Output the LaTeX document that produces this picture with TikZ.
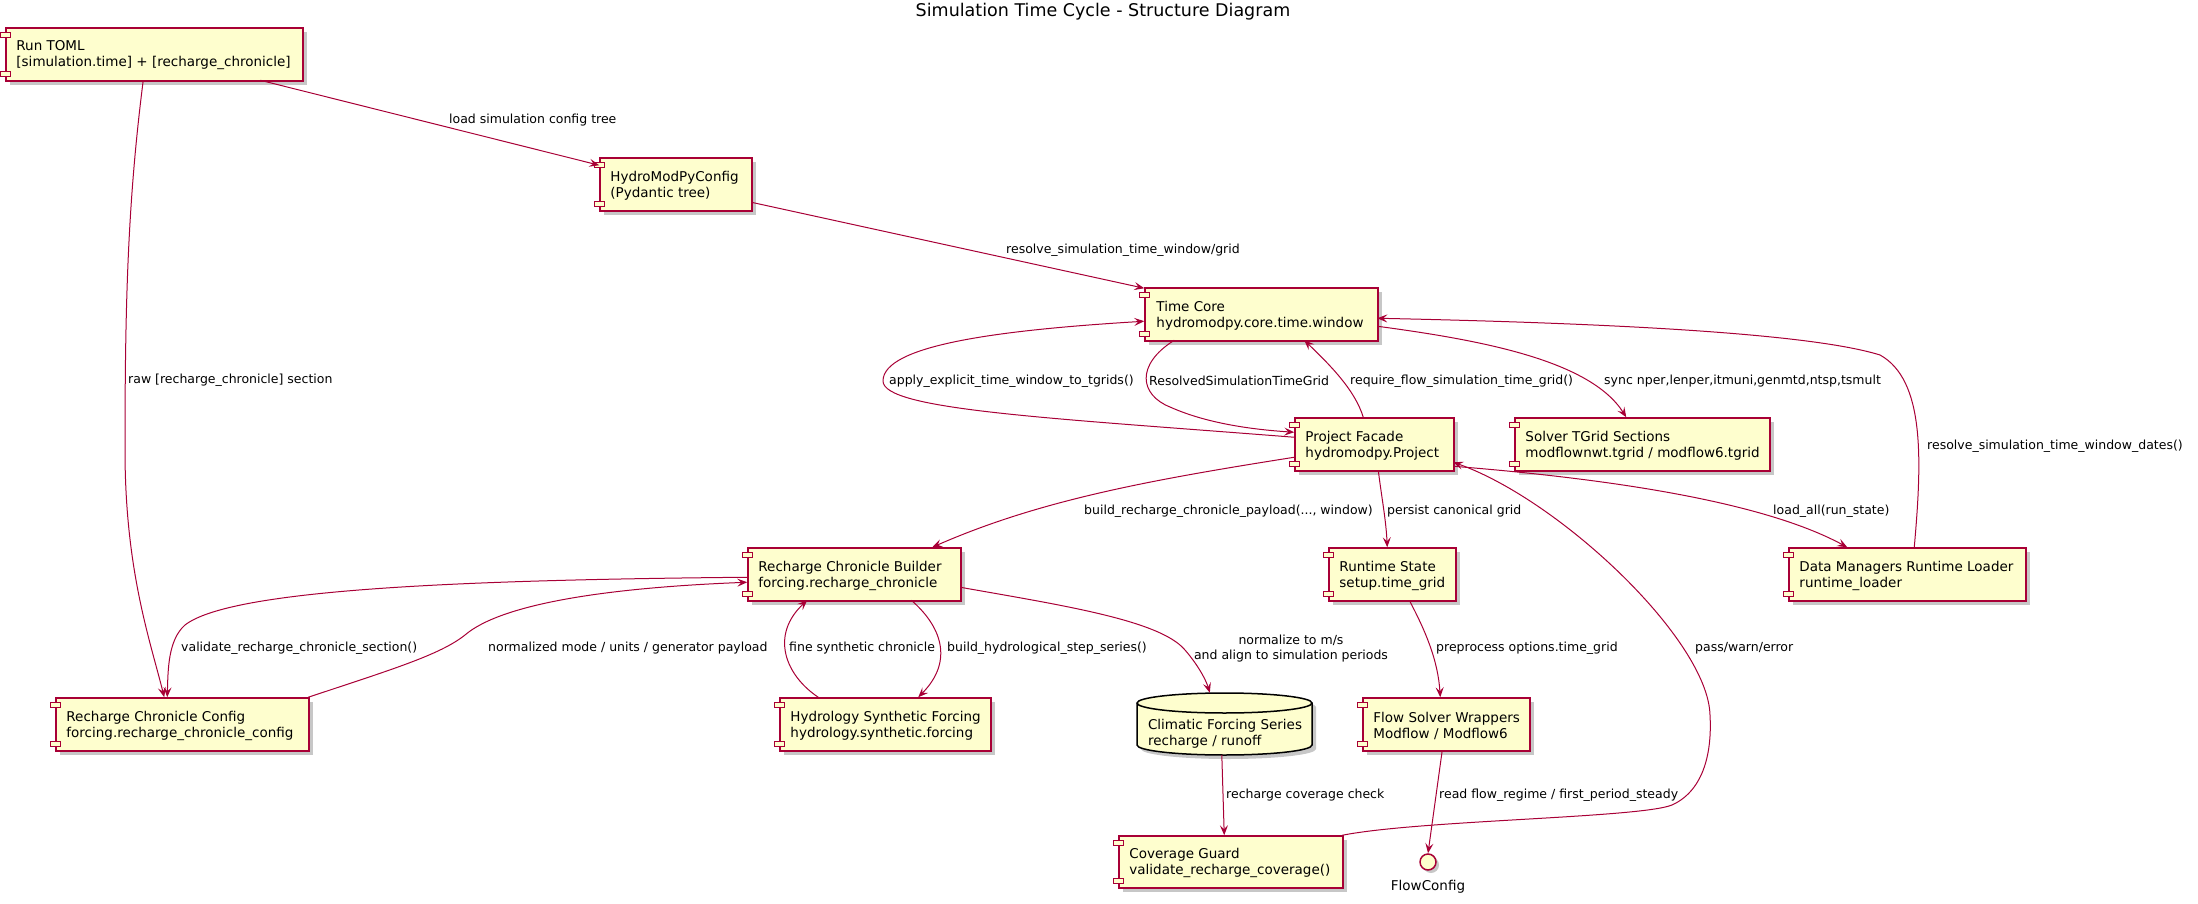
\documentclass[tikz,border=0pt]{standalone}
\usepackage{fontspec}
\setmainfont{DejaVu Sans}
\usetikzlibrary{arrows.meta,shadows,calc}
\definecolor{pbox}{HTML}{FEFECE}
\definecolor{pline}{HTML}{A80036}
\newcommand\compicons[1]{%
  \draw[icon] ($(#1.north west)+(-5,5.5)$) rectangle ($(#1.north west)+(5,10.5)$);
  \draw[icon] ($(#1.south west)+(-5,-5.5)$) rectangle ($(#1.south west)+(5,-10.5)$);}
\begin{document}
\begin{tikzpicture}[x=1pt,y=-1pt,
  comp/.style={draw=pline, fill=pbox, line width=1.5pt, minimum height=53pt, inner sep=0pt,
    drop shadow={shadow xshift=4pt, shadow yshift=-4pt, opacity=0.22, fill=black}},
  ctext/.style={anchor=west, align=left, inner sep=0pt, font=\fontsize{13.5}{16}\selectfont},
  icon/.style={draw=pline, fill=pbox, line width=1.2pt},
  conn/.style={draw=pline, line width=1pt, -{Stealth[length=10pt,width=8pt,inset=4pt]}},
  lbl/.style={anchor=west, inner sep=0pt, font=\fontsize{12.5}{15}\selectfont},
]
\useasboundingbox (0,0) rectangle (2198,904);

\node[font=\fontsize{17.5}{20}\selectfont] (title) at (1103,12) {Simulation Time Cycle - Structure Diagram};

% components
\node[comp, minimum width=297pt] (runtoml) at (154.5,54.5) {};
\node[comp, minimum width=152pt] (hmpc) at (676,184.5) {};
\node[comp, minimum width=233pt] (timecore) at (1261.5,314.5) {};
\node[comp, minimum width=159pt] (project) at (1374.5,444.5) {};
\node[comp, minimum width=255pt] (solver) at (1642.5,444.5) {};
\node[comp, minimum width=213pt] (rcb) at (854.5,574.5) {};
\node[comp, minimum width=127pt] (runtime) at (1392.5,574.5) {};
\node[comp, minimum width=237pt] (datamgr) at (1907.5,574.5) {};
\node[comp, minimum width=253pt] (rcc) at (182.5,724.5) {};
\node[comp, minimum width=211pt] (hsf) at (885.5,724.5) {};
\node[comp, minimum width=167pt] (fsw) at (1446.5,724.5) {};
\node[comp, minimum width=224pt, minimum height=52pt] (cov) at (1231,862) {};

\foreach \n in {runtoml,hmpc,timecore,project,solver,rcb,runtime,datamgr,rcc,hsf,fsw,cov}{\compicons{\n}}

% database cylinder
\node[inner sep=0pt, minimum width=175pt, minimum height=62pt] (cfs) at (1224.5,724) {};
\path[draw=black, fill=pbox, line width=1.5pt, drop shadow={shadow xshift=4pt, shadow yshift=-4pt, opacity=0.22, fill=black}]
  (1137,703) -- (1137,745)
  .. controls (1137,750.5) and (1176.2,755) .. (1224.5,755)
  .. controls (1272.8,755) and (1312,750.5) .. (1312,745)
  -- (1312,703)
  .. controls (1312,697.5) and (1272.8,693) .. (1224.5,693)
  .. controls (1176.2,693) and (1137,697.5) .. (1137,703) -- cycle;
\draw[draw=black, line width=1.5pt] (1137,703)
  .. controls (1137,708.5) and (1176.2,713) .. (1224.5,713)
  .. controls (1272.8,713) and (1312,708.5) .. (1312,703);

% interface
\node[circle, draw=pline, fill=pbox, line width=1.5pt, minimum size=16pt, inner sep=0pt,
  drop shadow={shadow xshift=3pt, shadow yshift=-3pt, opacity=0.22, fill=black}] (flowcfg) at (1428,862) {};
\node[inner sep=0pt, font=\fontsize{13.5}{16}\selectfont] (flowcfg-t) at (1428,887) {FlowConfig};

% texts
\node[ctext] (runtoml-t) at ($(runtoml.west)+(11,1)$) {Run TOML\\{}[simulation.time] + [recharge\_chronicle]};
\node[ctext] (hmpc-t) at ($(hmpc.west)+(11,1)$) {HydroModPyConfig\\(Pydantic tree)};
\node[ctext] (timecore-t) at ($(timecore.west)+(12,1)$) {Time Core\\hydromodpy.core.time.window};
\node[ctext] (project-t) at ($(project.west)+(11,1)$) {Project Facade\\hydromodpy.Project};
\node[ctext] (solver-t) at ($(solver.west)+(11,1)$) {Solver TGrid Sections\\modflownwt.tgrid / modflow6.tgrid};
\node[ctext] (rcb-t) at ($(rcb.west)+(11,1)$) {Recharge Chronicle Builder\\forcing.recharge\_chronicle};
\node[ctext] (runtime-t) at ($(runtime.west)+(11,1)$) {Runtime State\\setup.time\_grid};
\node[ctext] (datamgr-t) at ($(datamgr.west)+(11,1)$) {Data Managers Runtime Loader\\runtime\_loader};
\node[ctext] (rcc-t) at ($(rcc.west)+(11,1)$) {Recharge Chronicle Config\\forcing.recharge\_chronicle\_config};
\node[ctext] (hsf-t) at ($(hsf.west)+(11,1)$) {Hydrology Synthetic Forcing\\hydrology.synthetic.forcing};
\node[ctext] (cfs-t) at ($(cfs.west)+(11,10)$) {Climatic Forcing Series\\recharge / runoff};
\node[ctext] (fsw-t) at ($(fsw.west)+(11,1)$) {Flow Solver Wrappers\\Modflow / Modflow6};
\node[ctext] (cov-t) at ($(cov.west)+(11,1)$) {Coverage Guard\\validate\_recharge\_coverage()};

% connectors
\draw[conn] ($(runtoml.north west)+(255,53)$) -- ($(hmpc.north west)+(0,8)$);
\node[lbl] (l1) at (449,120) {load simulation config tree};

\draw[conn] ($(runtoml.north west)+(138,53)$) .. controls (128,200) and (125,300) .. (125,450)
  .. controls (125,570) and (150,640) .. ($(rcc.north west)+(109,0)$);
\node[lbl] (l2) at (128,380) {raw [recharge\_chronicle] section};

\draw[conn] ($(hmpc.north west)+(152,45)$) -- ($(timecore.north west)+(0,1)$);
\node[lbl] (l3) at (1006,250) {resolve\_simulation\_time\_window/grid};

\draw[conn] ($(project.north west)+(0,20)$) .. controls (1050,418) and (883,410) .. (883,381)
  .. controls (883,345) and (1000,330) .. ($(timecore.north west)+(0,34)$);
\node[lbl] (l4) at (889,381) {apply\_explicit\_time\_window\_to\_tgrids()};

\draw[conn] ($(timecore.north west)+(30,53)$) .. controls (1135,365) and (1140,395) .. (1170,407)
  .. controls (1210,425) and (1260,430) .. ($(project.north west)+(0,15)$);
\node[lbl] (l5) at (1149,381) {ResolvedSimulationTimeGrid};

\draw[conn] ($(project.north west)+(69,0)$) .. controls (1355,390) and (1330,365) .. ($(timecore.north west)+(160,53)$);
\node[lbl] (l6) at (1350,381) {require\_flow\_simulation\_time\_grid()};

\draw[conn] ($(timecore.north west)+(233,39)$) .. controls (1480,340) and (1590,360) .. ($(solver.north west)+(112,0)$);
\node[lbl] (l7) at (1604,381) {sync nper,lenper,itmuni,genmtd,ntsp,tsmult};

\draw[conn] ($(datamgr.north west)+(126,0)$) .. controls (1922,460) and (1925,380) .. (1880,355)
  .. controls (1800,330) and (1550,322) .. ($(timecore.north west)+(233,31)$);
\node[lbl] (l8) at (1927,446) {resolve\_simulation\_time\_window\_dates()};

\draw[conn] ($(project.north west)+(0,40)$) .. controls (1150,480) and (1040,500) .. ($(rcb.north west)+(185,0)$);
\node[lbl] (l9) at (1084,511) {build\_recharge\_chronicle\_payload(..., window)};

\draw[conn] ($(project.north west)+(84,53)$) .. controls (1382,500) and (1386,520) .. ($(runtime.north west)+(59,0)$);
\node[lbl] (l10) at (1387,511) {persist canonical grid};

\draw[conn] ($(project.north west)+(159,49)$) .. controls (1600,478) and (1760,500) .. ($(datamgr.north west)+(59,0)$);
\node[lbl] (l11) at (1773,511) {load\_all(run\_state)};

\draw[conn] ($(cov.north west)+(224,0)$) .. controls (1420,820) and (1640,818) .. (1672,805)
  .. controls (1705,790) and (1712,750) .. (1710,715)
  .. controls (1708,640) and (1560,500) .. ($(project.north west)+(159,45)$);
\node[lbl] (l12) at (1695,648) {pass/warn/error};

\draw[conn] ($(rcb.north west)+(0,30)$) .. controls (450,580) and (230,590) .. (185,625)
  .. controls (168,640) and (168,670) .. ($(rcc.north west)+(112,0)$);
\node[lbl] (l13) at (181,648) {validate\_recharge\_chronicle\_section()};

\draw[conn] ($(rcc.north west)+(253,0)$) .. controls (390,670) and (440,655) .. (465,635)
  .. controls (500,605) and (600,588) .. ($(rcb.north west)+(0,35)$);
\node[lbl] (l14) at (488,648) {normalized mode / units / generator payload};

\draw[conn] ($(hsf.north west)+(39,0)$) .. controls (785,675) and (770,635) .. ($(rcb.north west)+(60,53)$);
\node[lbl] (l15) at (789,648) {fine synthetic chronicle};

\draw[conn] ($(rcb.north west)+(164,53)$) .. controls (940,625) and (955,660) .. ($(hsf.north west)+(139,0)$);
\node[lbl] (l16) at (947,648) {build\_hydrological\_step\_series()};

\draw[conn] ($(rcb.north west)+(213,40)$) .. controls (1060,605) and (1160,620) .. (1185,650)
  .. controls (1198,665) and (1206,680) .. ($(cfs.north west)+(73,0)$);
\node[lbl, anchor=center, align=center] (l17) at (1291,648.5) {normalize to m/s\\and align to simulation periods};

\draw[conn] ($(runtime.north west)+(81,53)$) .. controls (1425,630) and (1438,660) .. ($(fsw.north west)+(78,0)$);
\node[lbl] (l18) at (1436,648) {preprocess options.time\_grid};

\draw[conn] ($(cfs.north west)+(85,62)$) -- ($(cov.north west)+(106,0)$);
\node[lbl] (l19) at (1226,795) {recharge coverage check};

\draw[conn] ($(fsw.north west)+(80,53)$) -- (flowcfg.north);
\node[lbl] (l20) at (1439,795) {read flow\_regime / first\_period\_steady};
\end{tikzpicture}
\end{document}
